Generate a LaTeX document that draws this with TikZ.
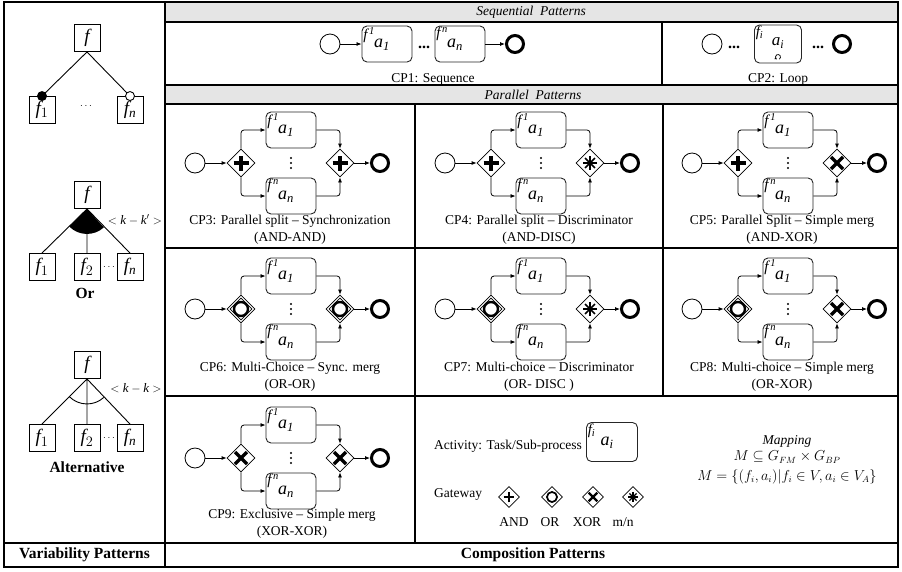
\documentclass[tikz,border=0pt]{standalone}
\usepackage{fontspec}
\setmainfont{Liberation Serif}
\usetikzlibrary{arrows.meta,shapes.geometric,positioning}

\definecolor{hdrgray}{gray}{0.9}

% gateway marks: [scale]{node}
\newcommand{\gand}[2][1]{\draw[line width=#1*3.2pt] ([xshift=-#1*7.5pt]#2.center) -- ([xshift=#1*7.5pt]#2.center)
  ([yshift=-#1*7.5pt]#2.center) -- ([yshift=#1*7.5pt]#2.center);}
\newcommand{\gorplain}[2][1]{\draw[line width=#1*2.4pt] (#2.center) circle[radius=#1*7pt];}
\newcommand{\gor}[2][1]{\gorplain[#1]{#2}
  \draw[line width=0.7pt] ([yshift=-3.6pt]#2.north) -- ([xshift=-3.6pt]#2.east) -- ([yshift=3.6pt]#2.south) -- ([xshift=3.6pt]#2.west) -- cycle;}
\newcommand{\gxor}[2][1]{\draw[line width=#1*3.4pt] ([shift={(-#1*6pt,-#1*6pt)}]#2.center) -- ([shift={(#1*6pt,#1*6pt)}]#2.center)
  ([shift={(-#1*6pt,#1*6pt)}]#2.center) -- ([shift={(#1*6pt,-#1*6pt)}]#2.center);}
\newcommand{\gmn}[2][1]{\foreach \ang in {0,45,90,135}
  \draw[line width=#1*1.7pt] ([shift={({\ang}:{#1*7pt})}]#2.center) -- ([shift={({\ang+180}:{#1*7pt})}]#2.center);}

% texts inside an activity
\newcommand{\taskin}[3]{%
  \node[anchor=north west, inner sep=1.5pt, font=\fontsize{15}{15}\selectfont] (#1f) at (#1.north west) {$#2$};
  \node[font=\fontsize{18}{18}\selectfont] (#1a) at ([xshift=-5pt,yshift=-1pt]#1.center) {$#3$};}

% parallel pattern: name, x, y, split, merge
\newcommand{\parpattern}[5]{%
  \node[startev] (#1s) at (#2,#3) {};
  \node[gw] (#1g) at (#2+46,#3) {};
  \node[task] (#1t1) at (#2+96,#3-33) {};
  \node[task] (#1t2) at (#2+96,#3+33) {};
  \node[gw] (#1m) at (#2+145,#3) {};
  \node[endev] (#1e) at (#2+185,#3) {};
  \coordinate (#1d) at (#2+96,#3);
  \foreach \dy in {-5,0,5} \fill ([yshift=\dy pt]#1d) circle[radius=1.2pt];
  \taskin{#1t1}{\mathit{f}^{\mkern3mu\mathit{1}}}{\mathit{a}_{\mathit{1}}}
  \taskin{#1t2}{\mathit{f}^{\mkern3mu\mathit{n}}}{\mathit{a}_{\mathit{n}}}
  #4{#1g} #5{#1m}
  \draw[flow] (#1s) -- (#1g);
  \draw[flow] (#1g.north) |- (#1t1);
  \draw[flow] (#1g.south) |- (#1t2);
  \draw[flow] (#1t1) -| (#1m.north);
  \draw[flow] (#1t2) -| (#1m.south);
  \draw[flow] (#1m) -- (#1e);}

\tikzset{
  grid/.style={line width=1.2pt},
  fbox/.style={draw, line width=0.9pt, minimum width=26pt, minimum height=27pt, inner sep=0pt, font=\fontsize{19}{19}\selectfont},
  task/.style={draw=black!85, rounded corners=5pt, minimum width=50pt, minimum height=36pt, line width=0.9pt},
  startev/.style={circle, draw, minimum size=20pt, inner sep=0pt, line width=0.8pt},
  endev/.style={circle, draw, minimum size=17pt, inner sep=0pt, line width=3pt},
  gw/.style={diamond, draw, minimum size=28pt, inner sep=0pt, line width=0.8pt},
  flow/.style={-{Latex[length=5pt,width=4pt]}, line width=0.8pt, rounded corners=3pt},
  captxt/.style={align=center, inner sep=1pt, font=\fontsize{13.5}{17}\selectfont},
  legtxt/.style={inner sep=1pt, font=\fontsize{13.5}{15}\selectfont},
  maptxt/.style={inner sep=0pt, font=\fontsize{13.5}{14}\selectfont},
  hdr/.style={font=\fontsize{13.5}{14}\selectfont\itshape},
  boldlbl/.style={font=\fontsize{15.5}{16}\selectfont\bfseries},
  seqdots/.style={inner sep=0pt, font=\fontsize{16}{16}\selectfont\bfseries},
}

\begin{document}
\begin{tikzpicture}[x=1pt,y=-1pt]
  \useasboundingbox (0,0) rectangle (902,571);

  % table
  \fill[hdrgray] (165,2) rectangle (898,22);
  \fill[hdrgray] (165,85) rectangle (898,104);
  \draw[grid] (4,2) rectangle (898,567);
  \draw[grid] (165,2) -- (165,567);
  \draw[grid] (165,22) -- (898,22) (165,85) -- (898,85) (165,104) -- (898,104)
    (165,248) -- (898,248) (165,396) -- (898,396) (4,543) -- (898,543);
  \draw[grid] (662,22) -- (662,85) (415,104) -- (415,543) (663,104) -- (663,396);

  \node[hdr] (seqhdr) at (531,12) {Sequential\ \ Patterns};
  \node[hdr] (parhdr) at (533,95) {Parallel\ \ Patterns};
  \node[boldlbl] (varlbl) at (84.5,555) {Variability Patterns};
  \node[boldlbl] (comlbl) at (533,555) {Composition Patterns};

  % mandatory / optional
  \node[fbox] (vf) at (87,38) {$\mathit{f}$};
  \node[fbox] (vf1) at (42,110) {$\mathit{f}_1$};
  \node[fbox] (vfn) at (130,110) {$\mathit{f}_{\mathit{n}}$};
  \node (vdots) at (86,106) {$\cdots$};
  \draw[line width=0.9pt] (vf.south) -- (vf1.north) (vf.south) -- (vfn.north);
  \fill (vf1.north) circle[radius=5pt];
  \draw[fill=white, line width=0.9pt] (vfn.north) circle[radius=4.5pt];

  % or
  \node[fbox] (of) at (87,195) {$\mathit{f}$};
  \node[fbox] (of1) at (42,267) {$\mathit{f}_1$};
  \node[fbox] (of2) at (87,267) {$\mathit{f}_2$};
  \node[fbox] (ofn) at (130,267) {$\mathit{f}_{\mathit{n}}$};
  \node (odots) at (109,267) {$\cdots$};
  \draw[line width=0.9pt] (of.south) -- (of1.north) (of.south) -- (of2.north) (of.south) -- (ofn.north);
  \fill (of.south) -- ([shift={(225:25pt)}]of.south) arc[start angle=225, end angle=312.4, radius=25pt] -- cycle;
  \node[font=\fontsize{13}{13}\selectfont] (ok) at (135,220) {$<\mathit{k}-\mathit{k}'>$};
  \node[boldlbl] (orlbl) at (85,293) {Or};

  % alternative
  \node[fbox] (af) at (87,365) {$\mathit{f}$};
  \node[fbox] (af1) at (42,438) {$\mathit{f}_1$};
  \node[fbox] (af2) at (87,438) {$\mathit{f}_2$};
  \node[fbox] (afn) at (130,438) {$\mathit{f}_{\mathit{n}}$};
  \node (adots) at (109,438) {$\cdots$};
  \draw[line width=0.9pt] (af.south) -- (af1.north) (af.south) -- (af2.north) (af.south) -- (afn.north);
  \draw[line width=0.9pt] ([shift={(225:25pt)}]af.south) arc[start angle=225, end angle=312.4, radius=25pt];
  \node[font=\fontsize{13}{13}\selectfont] (ak) at (136,388) {$<\mathit{k}-\mathit{k}>$};
  \node[boldlbl] (altlbl) at (87,467) {Alternative};

  % CP1
  \node[startev] (s1) at (330,44) {};
  \node[task] (t1a) at (387,44) {};
  \node[seqdots] (d1) at (424,47) {...};
  \node[task] (t1b) at (460,44) {};
  \node[endev] (e1) at (515,44) {};
  \taskin{t1a}{\mathit{f}^{\mkern3mu\mathit{1}}}{\mathit{a}_{\mathit{1}}}
  \taskin{t1b}{\mathit{f}^{\mkern3mu\mathit{n}}}{\mathit{a}_{\mathit{n}}}
  \draw[flow] (s1) -- (t1a);
  \draw[flow] (t1b) -- (e1);
  \node[captxt, anchor=base] (c1) at (433,82) {CP1: Sequence};

  % CP2
  \node[startev] (s2) at (712,44) {};
  \node[seqdots] (d2a) at (734,47) {...};
  \node[task, minimum width=47pt, minimum height=38pt] (t2) at (778,44) {};
  \node[seqdots] (d2b) at (818,47) {...};
  \node[endev] (e2) at (842,44) {};
  \node[anchor=north west, inner sep=1.5pt, font=\fontsize{15}{15}\selectfont] (t2f) at (t2.north west) {$\mathit{f}_{\mathit{i}}$};
  \node[font=\fontsize{17}{17}\selectfont] (t2a) at ([yshift=1pt]t2.center) {$\mathit{a}_{\mathit{i}}$};
  \coordinate (lp) at (778,57);
  \draw[-{Latex[length=2pt,width=2.5pt]}, line width=0.7pt] ([shift={(-60:2.5pt)}]lp) arc[start angle=-60, end angle=240, radius=2.5pt];
  \node[captxt, anchor=base] (c2) at (778,82) {CP2: Loop};

  % parallel patterns
  \parpattern{p3}{195}{163}{\gand}{\gand}
  \parpattern{p4}{445}{163}{\gand}{\gmn}
  \parpattern{p5}{692}{163}{\gand}{\gxor}
  \parpattern{p6}{195}{309}{\gor}{\gor}
  \parpattern{p7}{445}{309}{\gor}{\gmn}
  \parpattern{p8}{692}{309}{\gor}{\gxor}
  \parpattern{p9}{195}{458}{\gxor}{\gxor}

  \node[captxt, anchor=south] (c3) at (290,246) {CP3: Parallel split -- Synchronization\\(AND-AND)};
  \node[captxt, anchor=south] (c4) at (539,246) {CP4: Parallel split -- Discriminator\\(AND-DISC)};
  \node[captxt, anchor=south] (c5) at (782,246) {CP5: Parallel Split -- Simple merg\\(AND-XOR)};
  \node[captxt, anchor=south] (c6) at (290,393) {CP6: Multi-Choice -- Sync. merg\\(OR-OR)};
  \node[captxt, anchor=south] (c7) at (539,393) {CP7: Multi-choice -- Discriminator\\(OR- DISC )};
  \node[captxt, anchor=south] (c8) at (782,393) {CP8: Multi-choice -- Simple merg\\(OR-XOR)};
  \node[captxt, anchor=south] (c9) at (292,540) {CP9: Exclusive -- Simple merg\\(XOR-XOR)};

  % legend
  \node[legtxt, anchor=west] (lact) at (433,446) {Activity: Task/Sub-process};
  \node[task, minimum width=51pt, minimum height=39pt] (lt) at (612,442) {};
  \taskin{lt}{\mathit{f}_{\mathit{i}}}{\mathit{a}_{\mathit{i}}}
  \node[legtxt, anchor=west] (lgw) at (433,494) {Gateway};
  \node[gw, minimum size=21pt] (lg1) at (509,497) {};
  \node[gw, minimum size=21pt] (lg2) at (552,497) {};
  \node[gw, minimum size=21pt] (lg3) at (593,497) {};
  \node[gw, minimum size=21pt] (lg4) at (633,497) {};
  \gand[0.72]{lg1} \gorplain[0.72]{lg2} \gxor[0.72]{lg3} \gmn[0.72]{lg4}
  \node[legtxt] (ll1) at (514,522) {AND};
  \node[legtxt] (ll2) at (550,522) {OR};
  \node[legtxt] (ll3) at (587,522) {XOR};
  \node[legtxt] (ll4) at (623,522) {m/n};

  % mapping
  \node[maptxt] (map1) at (787,441) {\textit{Mapping}};
  \node[maptxt] (map2) at (787,457) {$M\subseteq G_{FM}\times G_{BP}$};
  \node[maptxt] (map3) at (787,477) {$M=\{(f_i,a_i)|f_i\in V, a_i\in V_A\}$};
\end{tikzpicture}
\end{document}
